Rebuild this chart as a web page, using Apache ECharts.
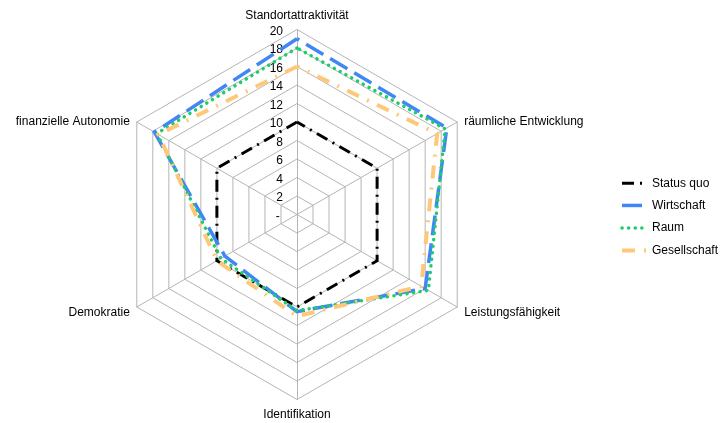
<!DOCTYPE html>
<html>
<head>
<meta charset="utf-8">
<script src="https://cdn.jsdelivr.net/npm/echarts@6/dist/echarts.min.js"></script>
<style>
  html, body { margin: 0; padding: 0; background: #fff; }
  #chart { width: 720px; height: 423px; }
</style>
</head>
<body>
<div id="chart"></div>
<script>
// Dimensions, listed clockwise starting at the top
const indicators = ['Standortattraktivität', 'räumliche Entwicklung', 'Leistungsfähigkeit', 'Identifikation', 'Demokratie', 'finanzielle Autonomie'];
const seriesNames = ['Status quo', 'Wirtschaft', 'Raum', 'Gesellschaft'];
const statusQuo    = [10, 10, 10, 10, 10, 10];
const wirtschaft   = [19, 18.7, 16, 10.5, 9, 17.8];
const raum         = [18, 18.5, 16.4, 10.4, 9.5, 17.5];
const gesellschaft = [16, 17.5, 15.5, 11, 10, 17.3];
const scaleMax = 20;
const scaleStep = 2;

// ECharts lays radar indicators out counter-clockwise; reorder so they run clockwise
const order = [0, 5, 4, 3, 2, 1];
const cw = arr => order.map(i => arr[i]);

const font = '"Liberation Sans", Arial, Helvetica, sans-serif';

// Per-name text box tweaks (clockwise order): side names sit a touch below their spoke tip
const nameLayout = [
  {},
  { verticalAlign: 'top', lineHeight: 8 },
  { verticalAlign: 'top', lineHeight: 4 },
  { padding: [1, 0, 0, 0] },
  { verticalAlign: 'top', lineHeight: 4 },
  { verticalAlign: 'top', lineHeight: 8 }
];

const styles = [
  { color: '#000000', width: 3, type: [12, 6, 2, 6], cap: 'butt' },
  { color: '#4186f5', width: 3.5, type: [20, 8], cap: 'butt' },
  { color: '#1fcc6a', width: 3.5, type: [0.1, 6.5], cap: 'round' },
  { color: '#ffc878', width: 4, type: [13, 9, 2, 9], cap: 'butt' }
];
const values = [statusQuo, wirtschaft, raum, gesellschaft];

// A horizontal stroke for legend keys; the outer moves only give the box its height
const lineIcon = 'path://M0,0 M0,7 L26,7 M26,14';

const chart = echarts.init(document.getElementById('chart'), null, { renderer: 'canvas' });
chart.setOption({
  backgroundColor: '#ffffff',
  animation: false,
  legend: {
    orient: 'vertical',
    left: 615,
    top: 170,
    itemWidth: 25,
    itemHeight: 14,
    itemGap: 5.5,
    textStyle: { fontFamily: font, fontSize: 12, color: '#000' },
    data: seriesNames.map((name, k) => ({
      name: name,
      icon: lineIcon,
      itemStyle: {
        color: 'transparent',
        borderColor: styles[k].color,
        borderWidth: styles[k].width,
        borderType: styles[k].type,
        borderCap: styles[k].cap
      }
    }))
  },
  radar: {
    center: [297, 214.5],
    radius: 185,
    startAngle: 90,
    shape: 'polygon',
    splitNumber: scaleMax / scaleStep,
    axisName: { color: '#000', fontFamily: font, fontSize: 12 },
    nameGap: 8,
    axisLine: { lineStyle: { color: '#b5b5b5', width: 1 } },
    splitLine: { lineStyle: { color: '#b5b5b5', width: 1 } },
    splitArea: { show: false },
    axisTick: { show: false },
    axisLabel: { show: false },
    indicator: cw(indicators).map((name, i) => {
      const ind = {
        name: name,
        min: 0,
        max: scaleMax,
        nameTextStyle: Object.assign({
          color: '#000',
          fontFamily: font,
          fontSize: 12
        }, nameLayout[order[i]])
      };
      if (i === 0) {
        ind.axisLabel = {
          show: true,
          color: '#000',
          fontFamily: font,
          fontSize: 12,
          margin: 14,
          verticalAlign: 'top',
          lineHeight: 4,
          formatter: v => (v === 0 ? '- ' : String(v))
        };
      }
      return ind;
    })
  },
  series: [{
    type: 'radar',
    symbol: 'none',
    data: values.map((vals, k) => ({
      name: seriesNames[k],
      value: cw(vals),
      itemStyle: { color: styles[k].color },
      lineStyle: {
        color: styles[k].color,
        width: styles[k].width,
        type: styles[k].type,
        cap: styles[k].cap,
        join: 'miter'
      }
    }))
  }]
});
</script>
</body>
</html>
